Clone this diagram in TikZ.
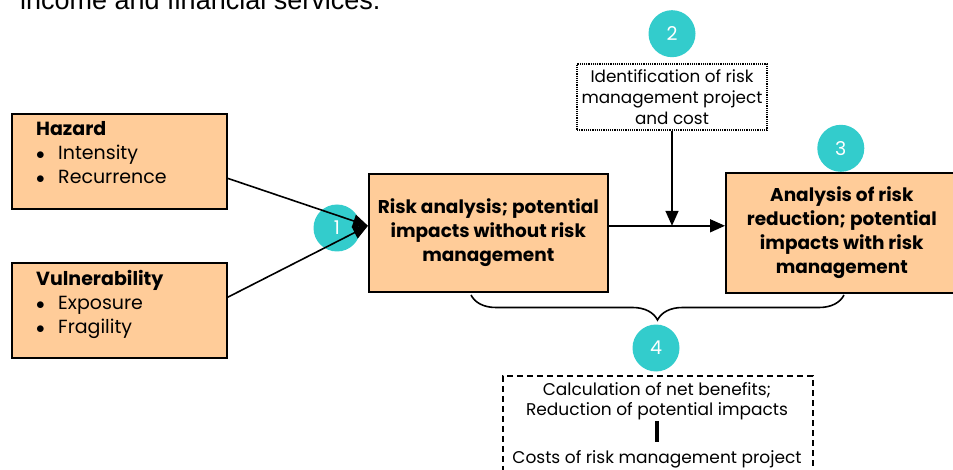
\documentclass[tikz,border=0pt]{standalone}
\usepackage{fontspec}
\setmainfont{Poppins}
\newfontfamily\arialfont{Liberation Sans}
\usetikzlibrary{arrows.meta,positioning,decorations.pathreplacing}
\pgfdeclarelayer{z1}
\pgfsetlayers{z1,main}
\definecolor{peach}{RGB}{255,204,153}
\definecolor{badgecyan}{RGB}{51,204,204}
\newcommand{\itemdot}{\makebox[22pt][l]{$\bullet$}}

\begin{document}
\begin{tikzpicture}[x=1pt,y=-1pt,
		factor/.style={draw, line width=1.6pt, rectangle, fill=peach, anchor=north west, minimum width=215pt, minimum height=95pt},
		factortext/.style={anchor=north west, align=left, inner sep=0pt, font=\fontsize{19}{24}\selectfont},
		stage/.style={draw, line width=1.6pt, rectangle, fill=peach, align=center, anchor=north west, font=\bfseries\fontsize{18.5}{24}\selectfont},
		badge/.style={circle, fill=badgecyan, text=white, minimum size=47pt, inner sep=0pt, font=\fontsize{19}{19}\selectfont},
		note/.style={align=center, inner sep=0pt, font=\fontsize{16}{20}\selectfont},
		link/.style={line width=1.6pt, -{Triangle[length=15pt,width=13pt]}},
	]
		\useasboundingbox (0,0) rectangle (953,470);

		% cut-off sentence above the figure
		\node[anchor=base west, inner sep=0pt, font=\arialfont\fontsize{27}{27}\selectfont] (intro) at (20,10) {income and financial services.};

		% inputs
		\node[factor] (hazard) at (11,113) {};
		\node[factortext] (hazardtxt) at (36,121) {\textbf{Hazard}\\\itemdot Intensity\\\itemdot Recurrence};
		\node[factor] (vuln) at (11,262) {};
		\node[factortext] (vulntxt) at (36,270) {\textbf{Vulnerability}\\\itemdot Exposure\\\itemdot Fragility};

		% analysis stages
		\node[stage, minimum width=239pt, minimum height=118pt] (risk) at (368,173) {Risk analysis; potential\\impacts without risk\\management};
		\node[stage, minimum width=232pt, minimum height=120pt] (reduc) at (725,172) {Analysis of risk\\reduction; potential\\impacts with risk\\management};
		\node[note, draw, densely dotted, line width=1.2pt, inner sep=2pt, minimum width=190pt, minimum height=66pt, font=\fontsize{16.8}{21}\selectfont] (ident) at (672,97) {Identification of risk\\management project\\and cost};

		% numbered markers
		\begin{pgfonlayer}{z1}
			\node[badge] (n1) at (337,228) {1};
		\end{pgfonlayer}
		\node[badge, above=6pt of ident] (n2) {2};
		\node[badge, above=0pt of reduc, xshift=-1pt] (n3) {3};

		% connectors
		\coordinate (risk-in) at ([yshift=7pt]risk.west);
		\coordinate (risk-out) at ([yshift=7pt]risk.east);
		\coordinate (reduc-in) at ([yshift=7pt]reduc.west);
		\coordinate (merge) at (ident.south |- risk-out);
		\draw[link] ([yshift=-17pt]hazard.east) -- (risk-in);
		\draw[link] ([yshift=13pt]vuln.east) -- (risk-in);
		\draw[link] (risk-out) -- (reduc-in);
		\draw[link] (ident.south) -- (merge);

		% comparison of both stages
		\draw[line width=1.6pt, decorate, decoration={brace, amplitude=25pt, mirror}] (471,295) -- (844,295);
		\node[badge] (n4) at (656,348) {4};
		\node[draw, dashed, dash pattern=on 6pt off 4pt, line width=1.6pt, anchor=north west, minimum width=310pt, minimum height=120pt] (net) at (502,375) {};
		\node[note, anchor=north, font=\fontsize{17}{20}\selectfont] (netcalc) at (657,382) {Calculation of net benefits;\\Reduction of potential impacts};
		\node[note, anchor=base, font=\fontsize{17}{20}\selectfont] (netcost) at (657,463) {Costs of risk management project};
		\draw[line width=4pt, shorten <=1pt, shorten >=8pt] (netcalc.south) -- (netcost.north);
	\end{tikzpicture}
\end{document}
